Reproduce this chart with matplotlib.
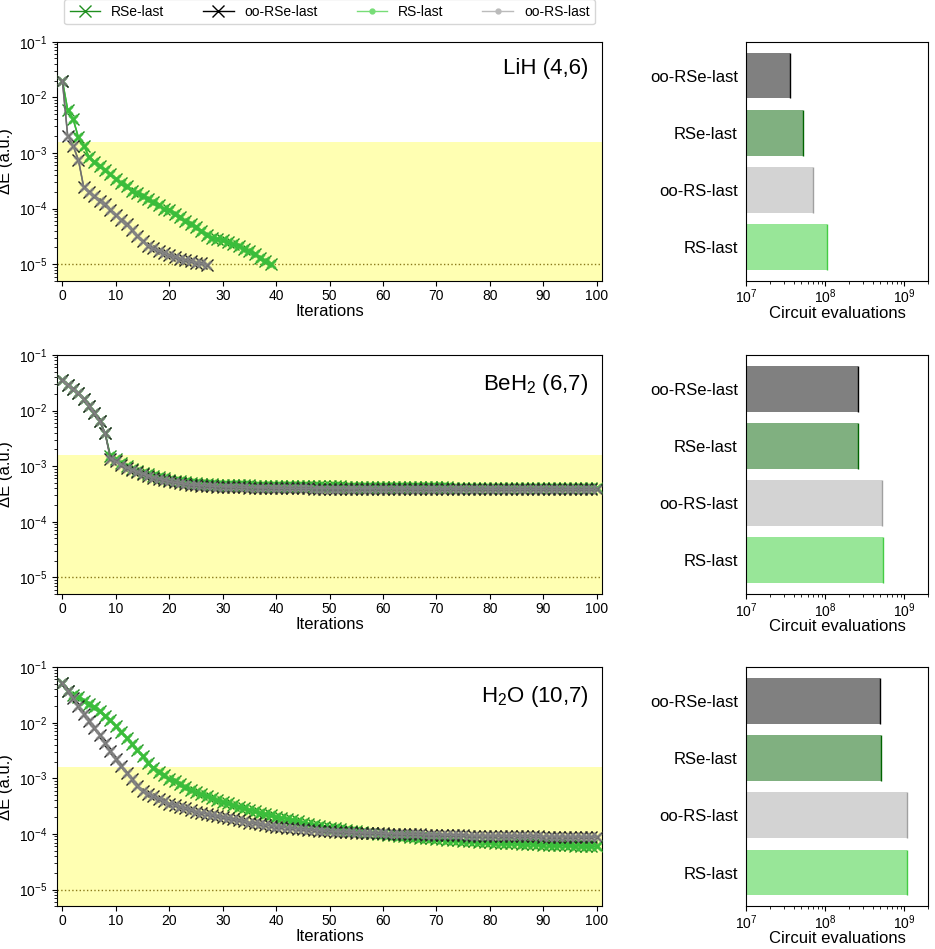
import matplotlib
matplotlib.use("Agg")
import matplotlib.pyplot as plt
import numpy as np
from matplotlib.lines import Line2D

plt.rcParams["font.family"] = ["Liberation Sans", "DejaVu Sans"]
plt.rcParams["mathtext.fontset"] = "custom"
plt.rcParams["mathtext.rm"] = "Liberation Sans"
plt.rcParams["mathtext.it"] = "Liberation Sans:italic"
plt.rcParams["mathtext.bf"] = "Liberation Sans:bold"

# ---------------- data ----------------
molecules = ["LiH (4,6)", "BeH$_2$ (6,7)", "H$_2$O (10,7)"]

lih_rse = [2.0e-2, 5.9e-3, 4.1e-3, 1.9e-3, 1.35e-3, 8.5e-4, 6.8e-4, 5.8e-4, 4.9e-4, 4.1e-4,
           3.4e-4, 2.9e-4, 2.5e-4, 2.1e-4, 1.9e-4, 1.7e-4, 1.5e-4, 1.3e-4, 1.15e-4, 1.0e-4,
           9.3e-5, 8.0e-5, 7.0e-5, 6.0e-5, 5.2e-5, 4.6e-5, 4.0e-5, 3.4e-5, 3.0e-5, 2.8e-5,
           2.7e-5, 2.5e-5, 2.3e-5, 2.1e-5, 1.9e-5, 1.7e-5, 1.5e-5, 1.3e-5, 1.15e-5, 1.0e-5]
lih_oo = [2.0e-2, 2.0e-3, 1.35e-3, 7.5e-4, 2.4e-4, 1.95e-4, 1.65e-4, 1.35e-4, 1.2e-4, 9.6e-5,
          7.8e-5, 6.1e-5, 5.2e-5, 4.2e-5, 3.2e-5, 2.6e-5, 2.1e-5, 1.93e-5, 1.73e-5, 1.58e-5,
          1.45e-5, 1.35e-5, 1.26e-5, 1.18e-5, 1.12e-5, 1.07e-5, 1.03e-5, 0.98e-5]

beh2_rse = [3.5e-2, 2.9e-2, 2.4e-2, 2.05e-2, 1.6e-2, 1.2e-2, 9.1e-3, 6.4e-3, 3.9e-3, 1.5e-3,
            1.32e-3, 1.12e-3, 1.01e-3, 9.0e-4, 8.3e-4, 7.65e-4, 7.1e-4, 6.7e-4, 6.3e-4, 6.0e-4,
            5.7e-4, 5.5e-4, 5.3e-4, 5.15e-4, 5.0e-4, 4.9e-4, 4.8e-4, 4.75e-4, 4.7e-4, 4.65e-4,
            4.6e-4, 4.57e-4, 4.55e-4, 4.53e-4, 4.51e-4, 4.49e-4, 4.47e-4, 4.46e-4, 4.45e-4, 4.44e-4,
            4.43e-4, 4.42e-4, 4.41e-4, 4.40e-4, 4.39e-4, 4.38e-4, 4.37e-4, 4.36e-4, 4.35e-4, 4.34e-4,
            4.33e-4, 4.32e-4, 4.31e-4, 4.30e-4, 4.29e-4, 4.28e-4, 4.27e-4, 4.26e-4, 4.25e-4, 4.24e-4,
            4.23e-4, 4.22e-4, 4.21e-4, 4.20e-4, 4.19e-4, 4.18e-4, 4.17e-4, 4.16e-4, 4.15e-4, 4.14e-4,
            4.14e-4, 4.13e-4, 4.13e-4, 4.12e-4, 4.12e-4, 4.11e-4, 4.11e-4, 4.10e-4, 4.10e-4, 4.09e-4,
            4.09e-4, 4.08e-4, 4.08e-4, 4.07e-4, 4.07e-4, 4.06e-4, 4.06e-4, 4.05e-4, 4.05e-4, 4.04e-4,
            4.04e-4, 4.03e-4, 4.03e-4, 4.02e-4, 4.02e-4, 4.01e-4, 4.01e-4, 4.00e-4, 4.00e-4, 3.99e-4,
            3.99e-4]
beh2_oo = [3.5e-2, 2.9e-2, 2.4e-2, 2.05e-2, 1.6e-2, 1.2e-2, 9.1e-3, 6.4e-3, 3.9e-3, 1.37e-3,
           1.22e-3, 1.06e-3, 9.4e-4, 8.5e-4, 7.9e-4, 7.25e-4, 6.7e-4, 6.2e-4, 5.9e-4, 5.6e-4,
           5.3e-4, 5.1e-4, 4.93e-4, 4.75e-4, 4.6e-4, 4.54e-4, 4.45e-4, 4.4e-4, 4.35e-4, 4.3e-4,
           4.26e-4, 4.23e-4, 4.2e-4, 4.17e-4, 4.14e-4, 4.12e-4, 4.1e-4, 4.08e-4, 4.06e-4, 4.04e-4,
           4.02e-4, 4.01e-4, 4.0e-4, 3.99e-4, 3.98e-4, 3.97e-4, 3.97e-4, 3.96e-4, 3.96e-4, 3.95e-4,
           3.95e-4, 3.95e-4, 3.94e-4, 3.94e-4, 3.93e-4, 3.93e-4, 3.92e-4, 3.92e-4, 3.91e-4, 3.91e-4,
           3.90e-4, 3.90e-4, 3.90e-4, 3.89e-4, 3.89e-4, 3.89e-4, 3.88e-4, 3.88e-4, 3.88e-4, 3.88e-4,
           3.87e-4, 3.87e-4, 3.87e-4, 3.87e-4, 3.86e-4, 3.86e-4, 3.86e-4, 3.86e-4, 3.86e-4, 3.85e-4,
           3.85e-4, 3.85e-4, 3.85e-4, 3.85e-4, 3.85e-4, 3.84e-4, 3.84e-4, 3.84e-4, 3.84e-4, 3.84e-4,
           3.84e-4, 3.83e-4, 3.83e-4, 3.83e-4, 3.83e-4, 3.83e-4, 3.83e-4, 3.82e-4, 3.82e-4, 3.82e-4,
           3.82e-4]

h2o_rse = [5.2e-2, 3.7e-2, 3.2e-2, 2.9e-2, 2.5e-2, 2.2e-2, 1.9e-2, 1.6e-2, 1.35e-2, 1.1e-2,
           8.7e-3, 6.8e-3, 5.4e-3, 4.2e-3, 3.3e-3, 2.5e-3, 1.9e-3, 1.55e-3, 1.3e-3, 1.13e-3,
           9.9e-4, 8.8e-4, 7.8e-4, 7.0e-4, 6.3e-4, 5.7e-4, 5.2e-4, 4.75e-4, 4.4e-4, 4.1e-4,
           3.8e-4, 3.55e-4, 3.3e-4, 3.1e-4, 2.9e-4, 2.7e-4, 2.55e-4, 2.4e-4, 2.28e-4, 2.16e-4,
           2.05e-4, 1.95e-4, 1.85e-4, 1.76e-4, 1.68e-4, 1.6e-4, 1.53e-4, 1.46e-4, 1.4e-4, 1.35e-4,
           1.3e-4, 1.26e-4, 1.22e-4, 1.18e-4, 1.15e-4, 1.12e-4, 1.09e-4, 1.06e-4, 1.03e-4, 1.01e-4,
           9.9e-5, 9.7e-5, 9.5e-5, 9.3e-5, 9.1e-5, 8.9e-5, 8.75e-5, 8.6e-5, 8.45e-5, 8.3e-5,
           8.15e-5, 8.0e-5, 7.9e-5, 7.8e-5, 7.7e-5, 7.6e-5, 7.5e-5, 7.4e-5, 7.3e-5, 7.2e-5,
           7.1e-5, 7.0e-5, 6.95e-5, 6.9e-5, 6.8e-5, 6.75e-5, 6.7e-5, 6.6e-5, 6.55e-5, 6.5e-5,
           6.45e-5, 6.4e-5, 6.35e-5, 6.3e-5, 6.25e-5, 6.2e-5, 6.15e-5, 6.1e-5, 6.05e-5, 6.0e-5,
           5.95e-5]
h2o_oo = [5.2e-2, 3.8e-2, 2.8e-2, 2.0e-2, 1.46e-2, 1.07e-2, 8.1e-3, 5.9e-3, 4.3e-3, 3.1e-3,
          2.2e-3, 1.66e-3, 1.26e-3, 9.6e-4, 7.3e-4, 5.9e-4, 5.3e-4, 4.8e-4, 4.3e-4, 3.9e-4,
          3.5e-4, 3.3e-4, 3.1e-4, 2.9e-4, 2.7e-4, 2.5e-4, 2.4e-4, 2.3e-4, 2.2e-4, 2.1e-4,
          2.0e-4, 1.92e-4, 1.84e-4, 1.76e-4, 1.68e-4, 1.6e-4, 1.55e-4, 1.5e-4, 1.45e-4, 1.4e-4,
          1.36e-4, 1.33e-4, 1.3e-4, 1.27e-4, 1.24e-4, 1.21e-4, 1.19e-4, 1.17e-4, 1.15e-4, 1.13e-4,
          1.11e-4, 1.1e-4, 1.09e-4, 1.08e-4, 1.07e-4, 1.06e-4, 1.05e-4, 1.04e-4, 1.035e-4, 1.03e-4,
          1.02e-4, 1.015e-4, 1.01e-4, 1.0e-4, 9.95e-5, 9.9e-5, 9.85e-5, 9.8e-5, 9.75e-5, 9.7e-5,
          9.65e-5, 9.6e-5, 9.55e-5, 9.5e-5, 9.45e-5, 9.4e-5, 9.35e-5, 9.3e-5, 9.28e-5, 9.25e-5,
          9.22e-5, 9.2e-5, 9.17e-5, 9.15e-5, 9.12e-5, 9.1e-5, 9.08e-5, 9.05e-5, 9.03e-5, 9.0e-5,
          8.98e-5, 8.96e-5, 8.94e-5, 8.92e-5, 8.9e-5, 8.88e-5, 8.86e-5, 8.84e-5, 8.82e-5, 8.8e-5,
          8.78e-5]

rse_series = [lih_rse, beh2_rse, h2o_rse]
oo_series = [lih_oo, beh2_oo, h2o_oo]

bar_labels = ["RS-last", "oo-RS-last", "RSe-last", "oo-RSe-last"]
bar_lih = [1.04e8, 6.97e7, 5.2e7, 3.54e7]
bar_beh2 = [5.45e8, 5.28e8, 2.61e8, 2.61e8]
bar_h2o = [1.07e9, 1.07e9, 5.14e8, 4.94e8]
bar_values = [bar_lih, bar_beh2, bar_h2o]

chem_acc = 1.6e-3
threshold = 1e-5

# ---------------- style ----------------
bar_face = ["#98e698", "#d3d3d3", "#80b080", "#808080"]
bar_edge = ["#44cc44", "#a0a0a0", "#006400", "#000000"]

fig = plt.figure(figsize=(9.35, 9.49), dpi=100)

left_boxes = [(0.061, 0.704, 0.583, 0.252),
              (0.061, 0.374, 0.583, 0.252),
              (0.061, 0.045, 0.583, 0.252)]
right_boxes = [(0.798, 0.704, 0.195, 0.252),
               (0.798, 0.374, 0.195, 0.252),
               (0.798, 0.045, 0.195, 0.252)]

for i in range(3):
    ax = fig.add_axes(left_boxes[i])
    ax.set_yscale("log")
    ax.set_ylim(5e-6, 1e-1)
    ax.set_xlim(-1, 101)
    ax.axhspan(5e-6, chem_acc, color="yellow", alpha=0.3, lw=0, zorder=0)
    ax.axhline(threshold, color="#8a7a1a", ls=":", lw=1, zorder=1)

    xr = np.arange(len(rse_series[i]))
    xo = np.arange(len(oo_series[i]))
    # RSe-last (green, thin x)
    ax.plot(xr, rse_series[i], color="#1f8f1f", lw=1, marker="x", ms=8, mew=1.0, zorder=3)
    # RS-last overlay (light green thick)
    ax.plot(xr, rse_series[i], color="#3cbf3c", lw=1.2, marker="x", ms=6, mew=2.2, zorder=4, alpha=0.9)
    # oo-RSe-last (black thin x)
    ax.plot(xo, oo_series[i], color="#222222", lw=1, marker="x", ms=8, mew=1.0, zorder=5)
    # oo-RS-last overlay (gray thick)
    ax.plot(xo, oo_series[i], color="#888888", lw=1.2, marker="x", ms=6, mew=2.2, zorder=6, alpha=0.75)

    ax.set_xticks(np.arange(0, 101, 10))
    ax.set_ylabel("ΔE (a.u.)", fontsize=12, labelpad=4)
    ax.set_xlabel("Iterations", fontsize=12)
    ax.xaxis.set_label_coords(0.5, -0.095)
    ax.tick_params(labelsize=10)
    ax.tick_params(axis="x", pad=2)
    ax.text(0.975, 0.93, molecules[i], transform=ax.transAxes, ha="right", va="top", fontsize=16)

    axb = fig.add_axes(right_boxes[i])
    ypos = np.arange(len(bar_labels))
    axb.barh(ypos, bar_values[i], height=0.8, color=bar_face, left=0)
    axb.vlines(bar_values[i], ypos - 0.4, ypos + 0.4, colors=bar_edge, lw=1)
    axb.set_xscale("log")
    axb.set_xlim(1e7, 2.02e9)
    axb.set_ylim(-0.59, 3.59)
    axb.set_yticks(ypos)
    axb.set_yticklabels(bar_labels, fontsize=12)
    axb.tick_params(axis="y", length=0, pad=6)
    axb.tick_params(axis="x", labelsize=10, pad=1.5)
    axb.set_xlabel("Circuit evaluations", fontsize=12)
    axb.xaxis.set_label_coords(0.5, -0.105)

handles = [
    Line2D([], [], color="#1f8f1f", marker="x", ms=9, mew=1, lw=1),
    Line2D([], [], color="black", marker="x", ms=9, mew=1, lw=1),
    Line2D([], [], color="#77dd77", marker=".", ms=7, lw=1),
    Line2D([], [], color="#bbbbbb", marker=".", ms=7, lw=1),
]
labels = ["RSe-last", "oo-RSe-last", "RS-last", "oo-RS-last"]
fig.legend(handles, labels, ncol=4, loc="lower left", mode="expand",
           bbox_to_anchor=(0.061, 0.967, 0.583, 0.03),
           fontsize=10, handlelength=2.2, borderpad=0.4, frameon=True)

fig.savefig("out.png", dpi=100)
